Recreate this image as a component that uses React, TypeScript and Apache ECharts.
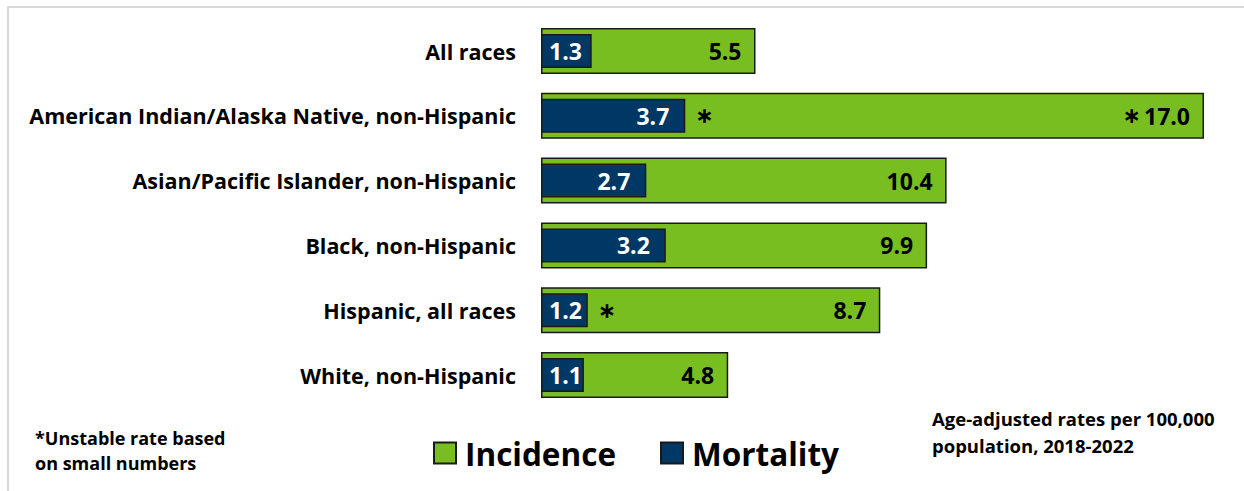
import React, { useEffect, useRef } from "react";
import * as echarts from "echarts";

const categories = [
  "All races",
  "American Indian/Alaska Native, non-Hispanic",
  "Asian/Pacific Islander, non-Hispanic",
  "Black, non-Hispanic",
  "Hispanic, all races",
  "White, non-Hispanic",
];
const incidence = [5.5, 17.0, 10.4, 9.9, 8.7, 4.8];
const mortality = [1.3, 3.7, 2.7, 3.2, 1.2, 1.1];
const incidenceUnstable = [false, true, false, false, false, false];
const mortalityUnstable = [false, true, false, false, true, false];

const GREEN = "#78be20";
const BLUE = "#003865";
const FONT = "Open Sans";

export default function App() {
  const ref = useRef<HTMLDivElement>(null);
  useEffect(() => {
    document.body.style.margin = "0";
    const chart = echarts.init(ref.current!, undefined, { renderer: "svg" });
    const option: any = {
      animation: false,
      backgroundColor: "#ffffff",
      textStyle: { fontFamily: FONT },
      grid: { left: 541, right: 1, top: 18.6, bottom: 83.6, containLabel: false },
      xAxis: { type: "value", min: 0, max: 18, show: false },
      yAxis: [
        {
          type: "category",
          data: categories,
          inverse: true,
          axisLine: { show: false },
          axisTick: { show: false },
          splitLine: { show: false },
          axisLabel: {
            margin: 25,
            fontSize: 21.5,
            fontWeight: "bold",
            color: "#000",
            fontFamily: FONT,
          },
        },
        { type: "category", data: categories, inverse: true, show: false },
      ],
      legend: {
        data: ["Incidence", "Mortality"],
        left: 428,
        top: 432,
        icon: "rect",
        itemWidth: 22,
        itemHeight: 21,
        itemGap: 44,
        textStyle: {
          fontSize: 31.5,
          fontWeight: "bold",
          color: "#000",
          fontFamily: FONT,
          padding: [0, 0, 0, 4],
        },
        selectedMode: false,
      },
      series: [
        {
          name: "Incidence",
          type: "bar",
          yAxisIndex: 0,
          barWidth: 46,
          data: incidence,
          itemStyle: { color: GREEN, borderColor: "#1a1a1a", borderWidth: 1.5 },
          label: {
            show: true,
            position: "insideRight",
            distance: 14,
            formatter: (p: any) =>
              incidenceUnstable[p.dataIndex]
                ? `{a|∗}{v|${p.value.toFixed(1)}}`
                : `{v|${p.value.toFixed(1)}}`,
            rich: {
              v: { fontSize: 23, fontWeight: "bold", color: "#000", fontFamily: FONT },
              a: { fontSize: 22, fontWeight: "bold", color: "#000", fontFamily: "DejaVu Sans", padding: [0, 3, 0, 0] },
            },
          },
        },
        {
          name: "Mortality",
          type: "bar",
          yAxisIndex: 1,
          barWidth: 34,
          barGap: "-100%",
          z: 3,
          data: mortality.map((v) => ({
            value: v,
            label:
              v < 1.6
                ? { position: "insideLeft", distance: 8 }
                : { position: "insideRight", distance: 16 },
          })),
          itemStyle: { color: BLUE, borderColor: "#1a1a1a", borderWidth: 1.5 },
          label: {
            show: true,
            fontSize: 23,
            fontWeight: "bold",
            color: "#fff",
            fontFamily: FONT,
            formatter: (p: any) => p.value.toFixed(1),
          },
        },
        {
          name: "unstable",
          type: "bar",
          yAxisIndex: 1,
          barWidth: 34,
          barGap: "-100%",
          z: 4,
          silent: true,
          data: mortality,
          itemStyle: { color: "rgba(0,0,0,0)" },
          label: {
            show: true,
            position: "right",
            distance: 10,
            fontSize: 22,
            fontWeight: "bold",
            color: "#000",
            fontFamily: "DejaVu Sans",
            formatter: (p: any) => (mortalityUnstable[p.dataIndex] ? "∗" : ""),
          },
        },
      ],
      graphic: [
        {
          type: "rect",
          shape: { x: 8, y: 7, width: 1400, height: 700 },
          style: { fill: "none", stroke: "#d9d9d9", lineWidth: 2 },
          silent: true,
          z: -10,
        },
        {
          type: "text",
          left: 35,
          top: 425,
          style: {
            text: "*Unstable rate based\non small numbers",
            font: `bold 18px ${FONT}`,
            fill: "#000",
            lineHeight: 25,
          },
        },
        {
          type: "text",
          left: 932,
          top: 405,
          style: {
            text: "Age-adjusted rates per 100,000\npopulation, 2018-2022",
            font: `bold 18.5px ${FONT}`,
            fill: "#000",
            lineHeight: 27,
          },
        },
      ],
    };
    chart.setOption(option);
    return () => chart.dispose();
  }, []);
  return (
    <div
      ref={ref}
      style={{ position: "absolute", left: 0, top: 0, width: 1244, height: 491 }}
    />
  );
}
